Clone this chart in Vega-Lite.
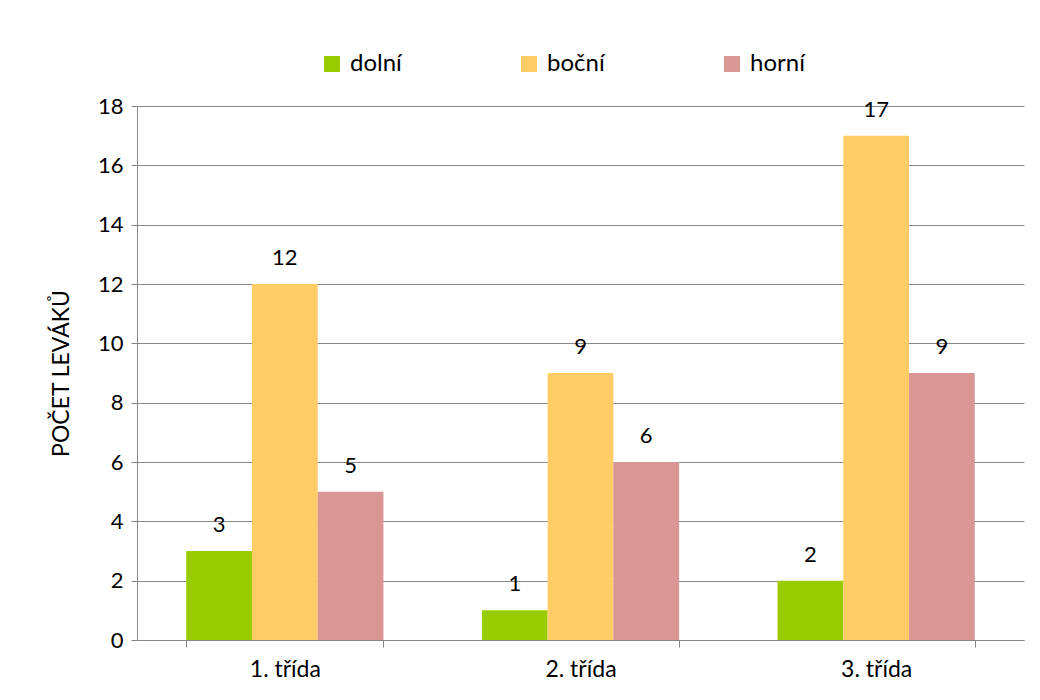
{
  "$schema": "https://vega.github.io/schema/vega-lite/v6.json",
  "width": 887,
  "height": 534,
  "autosize": {"type": "none"},
  "padding": {"left": 137, "top": 106, "right": 16, "bottom": 60},
  "background": "white",
  "config": {
    "font": "Lato",
    "view": {"stroke": null},
    "axis": {"labelFont": "Lato", "titleFont": "Lato"}
  },
  "data": {
    "values": [
      {"trida": "1. třída", "typ": "dolní", "pocet": 3},
      {"trida": "1. třída", "typ": "boční", "pocet": 12},
      {"trida": "1. třída", "typ": "horní", "pocet": 5},
      {"trida": "2. třída", "typ": "dolní", "pocet": 1},
      {"trida": "2. třída", "typ": "boční", "pocet": 9},
      {"trida": "2. třída", "typ": "horní", "pocet": 6},
      {"trida": "3. třída", "typ": "dolní", "pocet": 2},
      {"trida": "3. třída", "typ": "boční", "pocet": 17},
      {"trida": "3. třída", "typ": "horní", "pocet": 9}
    ]
  },
  "encoding": {
    "x": {
      "field": "trida",
      "type": "nominal",
      "scale": {"paddingInner": 0.333, "paddingOuter": 0.1665},
      "axis": {
        "title": null,
        "labelAngle": 0,
        "labelFontSize": 23,
        "labelColor": "#000000",
        "labelPadding": 11,
        "tickBand": "extent",
        "tickSize": 7,
        "tickColor": "#868686",
        "domainColor": "#868686",
        "grid": false
      }
    },
    "xOffset": {"field": "typ", "type": "nominal", "sort": ["dolní", "boční", "horní"]},
    "y": {
      "field": "pocet",
      "type": "quantitative",
      "scale": {"domain": [0, 18], "nice": false},
      "axis": {
        "title": "POČET  LEVÁKŮ",
        "titleFontSize": 23,
        "titleFontWeight": "normal",
        "titleColor": "#000000",
        "titlePadding": 24,
        "values": [0, 2, 4, 6, 8, 10, 12, 14, 16, 18],
        "labelFontSize": 22,
        "labelColor": "#000000",
        "labelPadding": 8,
        "tickSize": 6,
        "tickColor": "#868686",
        "domainColor": "#868686",
        "gridColor": "#868686",
        "gridWidth": 1
      }
    }
  },
  "layer": [
    {
      "mark": {"type": "bar"},
      "encoding": {
        "color": {
          "field": "typ",
          "type": "nominal",
          "sort": ["dolní", "boční", "horní"],
          "scale": {"domain": ["dolní", "boční", "horní"], "range": ["#99CC00", "#FFCC66", "#DA9694"]},
          "legend": {
            "title": null,
            "orient": "none",
            "legendX": 183,
            "legendY": -54,
            "direction": "horizontal",
            "symbolType": "square",
            "symbolSize": 256,
            "symbolStrokeWidth": 0,
            "labelFontSize": 24,
            "labelColor": "#000000",
            "labelOffset": 6,
            "columnPadding": 115
          }
        }
      }
    },
    {
      "mark": {"type": "text", "baseline": "alphabetic", "dy": -19, "fontSize": 22, "color": "#000000"},
      "encoding": {"text": {"field": "pocet", "type": "quantitative"}}
    }
  ]
}
